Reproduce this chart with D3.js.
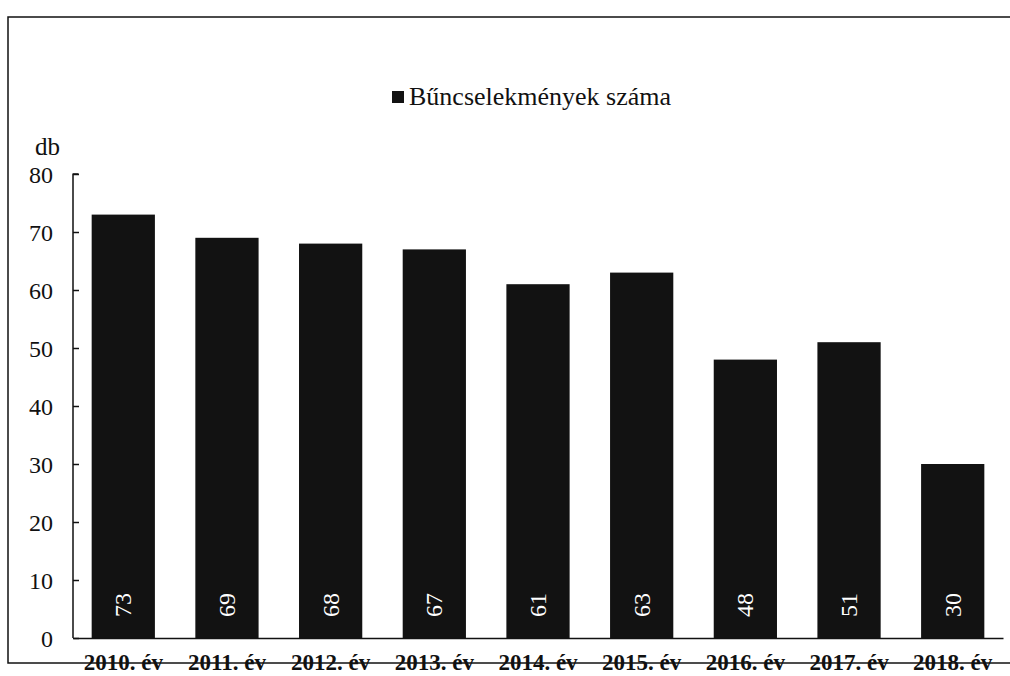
<!DOCTYPE html>
<html><head><meta charset="utf-8">
<script src="https://cdn.jsdelivr.net/npm/d3@7"></script>
<style>body{margin:0;background:#fff}svg{display:block}
svg text{font-family:"Liberation Serif","Times New Roman",serif !important;}</style>
</head><body>
<svg id="c" width="1010" height="676" font-family="Liberation Serif"></svg>
<script>
const categories = ["2010. év","2011. év","2012. év","2013. év","2014. év","2015. év","2016. év","2017. év","2018. év"];
const values = [73,69,68,67,61,63,48,51,30];
const yTicks = [0,10,20,30,40,50,60,70,80];
const seriesName = "Bűncselekmények száma";
const unitLabel = "db";

(function(){
const svg = d3.select("#c");
const pl = 73, pr = 1003, pt = 174, pb = 638;

// frame
svg.append("rect").attr("x",8).attr("y",17).attr("width",1010).attr("height",646)
  .attr("fill","none").attr("stroke","#111").attr("stroke-width",1.5);

const x = d3.scaleBand().domain(categories).range([pl,pr]).paddingInner(0.39).paddingOuter(0.18);
const y = d3.scaleLinear().domain([0,80]).range([pb,pt]);

// bars
svg.append("g").selectAll("rect").data(values).join("rect")
  .attr("x",(d,i)=>x(categories[i])).attr("y",d=>y(d))
  .attr("width",x.bandwidth()).attr("height",d=>y(0)-y(d))
  .attr("fill","#121212");

// value labels (rotated)
svg.append("g").selectAll("text").data(values).join("text")
  .attr("transform",(d,i)=>`translate(${x(categories[i])+x.bandwidth()/2+8},605) rotate(-90)`)
  .attr("text-anchor","middle").attr("fill","#fff")
  .style("font-size","24px").text(d=>d);

// y axis
const ya = d3.axisLeft(y).tickValues(yTicks).tickSize(-6).tickPadding(20).tickFormat(d3.format("d"));
const gy = svg.append("g").attr("transform",`translate(${pl},0)`).call(ya).attr("font-family",null);
gy.select(".domain").attr("d",`M-0.5,${pt}H5.5M0,${pt}V${pb}`).attr("stroke","#111").attr("stroke-width",1.5);
gy.selectAll(".tick line").attr("stroke","#111").attr("stroke-width",1.5);
gy.selectAll(".tick text").style("font-size","24px").attr("fill","#111").attr("dy","0.35em");

// x axis
const xa = d3.axisBottom(x).tickSize(0).tickPadding(27);
const gx = svg.append("g").attr("transform",`translate(0,${pb})`).call(xa).attr("font-family",null);
gx.select(".domain").attr("stroke","#111").attr("stroke-width",1.5);
gx.selectAll(".tick text").style("font-size","23px")
  .style("font-weight","bold").attr("fill","#111").attr("dy","0.2em");

// unit
svg.append("text").attr("x",35).attr("y",155).style("font-size","25px").attr("fill","#111").text(unitLabel);

// legend
svg.append("rect").attr("x",392).attr("y",91).attr("width",12).attr("height",12).attr("fill","#121212");
svg.append("text").attr("x",409).attr("y",105).style("font-size","26px").attr("fill","#111").text(seriesName);
})();
</script>
</body></html>
